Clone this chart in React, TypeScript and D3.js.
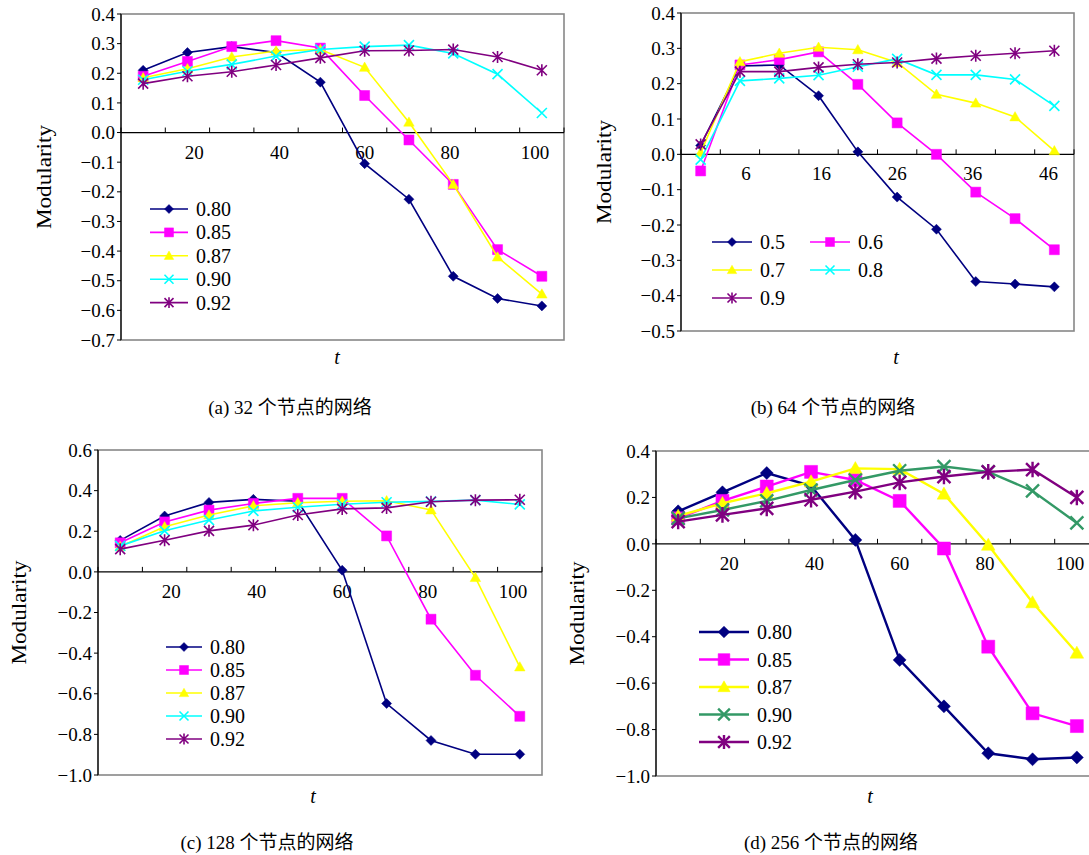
import React from "react";
import * as d3 from "d3";

// x values (t) for each panel
const tStep10 = [10, 20, 30, 40, 50, 60, 70, 80, 90, 100];
const tStep5 = [1, 6, 11, 16, 21, 26, 31, 36, 41, 46];
const xLabels10 = [20, 40, 60, 80, 100];
const xLabels5 = [6, 16, 26, 36, 46];

const legendFive = ["0.80", "0.85", "0.87", "0.90", "0.92"];
const legendB = ["0.5", "0.6", "0.7", "0.8", "0.9"];

// (a) 32 nodes
const a80 = [0.21, 0.27, 0.29, 0.27, 0.17, -0.105, -0.225, -0.485, -0.56, -0.585];
const a85 = [0.19, 0.24, 0.29, 0.31, 0.285, 0.125, -0.025, -0.175, -0.395, -0.485];
const a87 = [0.185, 0.215, 0.255, 0.275, 0.28, 0.22, 0.035, -0.175, -0.42, -0.545];
const a90 = [0.178, 0.207, 0.23, 0.258, 0.28, 0.29, 0.295, 0.267, 0.197, 0.066];
const a92 = [0.165, 0.19, 0.205, 0.228, 0.252, 0.276, 0.277, 0.28, 0.255, 0.21];

// (b) 64 nodes
const b5 = [0.025, 0.25, 0.253, 0.166, 0.007, -0.121, -0.212, -0.36, -0.367, -0.375];
const b6 = [-0.047, 0.253, 0.268, 0.29, 0.198, 0.089, 0.0, -0.107, -0.182, -0.27];
const b7 = [0.005, 0.262, 0.286, 0.303, 0.296, 0.26, 0.17, 0.145, 0.106, 0.01];
const b8 = [-0.015, 0.208, 0.215, 0.224, 0.248, 0.27, 0.225, 0.225, 0.212, 0.137];
const b9 = [0.028, 0.234, 0.234, 0.246, 0.255, 0.26, 0.271, 0.279, 0.286, 0.293];

// (c) 128 nodes
const c80 = [0.155, 0.275, 0.342, 0.357, 0.348, 0.008, -0.648, -0.83, -0.898, -0.898];
const c85 = [0.143, 0.246, 0.304, 0.337, 0.362, 0.362, 0.177, -0.233, -0.509, -0.711];
const c87 = [0.125, 0.222, 0.28, 0.325, 0.34, 0.348, 0.35, 0.305, -0.028, -0.468];
const c90 = [0.128, 0.202, 0.255, 0.3, 0.318, 0.333, 0.343, 0.347, 0.353, 0.332];
const c92 = [0.112, 0.156, 0.202, 0.23, 0.28, 0.31, 0.315, 0.345, 0.353, 0.355];

// (d) 256 nodes
const d80 = [0.14, 0.222, 0.305, 0.25, 0.017, -0.5, -0.7, -0.902, -0.928, -0.92];
const d85 = [0.11, 0.185, 0.247, 0.31, 0.275, 0.185, -0.02, -0.443, -0.73, -0.785];
const d87 = [0.12, 0.175, 0.218, 0.268, 0.325, 0.322, 0.215, -0.005, -0.253, -0.47];
const d90 = [0.11, 0.146, 0.185, 0.232, 0.275, 0.315, 0.333, 0.31, 0.228, 0.09];
const d92 = [0.096, 0.125, 0.153, 0.19, 0.225, 0.265, 0.29, 0.31, 0.32, 0.2];

const NAVY = "#000080", MAG = "#ff00ff", YEL = "#ffff00", CYAN = "#00ffff", PURP = "#800080", GREEN = "#339966";
const FONT = "Liberation Serif, DejaVu Serif, serif";
const CJK = "Liberation Serif, Noto Sans CJK SC, serif";

type Shape = "diamond" | "square" | "triangle" | "x" | "star";

function markerPath(shape: Shape, s: number) {
  switch (shape) {
    case "diamond": return `M0,${-s}L${s},0L0,${s}L${-s},0Z`;
    case "square": return `M${-s},${-s}H${s}V${s}H${-s}Z`;
    case "triangle": return `M0,${-s * 1.05}L${s * 1.05},${s * 0.8}L${-s * 1.05},${s * 0.8}Z`;
    case "x": return `M${-s},${-s}L${s},${s}M${-s},${s}L${s},${-s}`;
    case "star": return `M${-s},${-s}L${s},${s}M${-s},${s}L${s},${-s}M0,${-s * 1.2}V${s * 1.2}`;
  }
}

function Marker({ shape, color, s, x, y, sw }: { shape: Shape; color: string; s: number; x: number; y: number; sw: number }) {
  const filled = shape !== "x" && shape !== "star";
  return (
    <path
      d={markerPath(shape, s)}
      transform={`translate(${x},${y})`}
      fill={filled ? color : "none"}
      stroke={color}
      strokeWidth={filled ? 0.5 : sw}
    />
  );
}

interface Series { values: number[]; color: string; shape: Shape; label: string }

interface PanelProps {
  left: number; right: number; top: number; bottom: number;
  xs: number[]; xStep: number; xLabels: number[];
  yMin: number; yMax: number; yStep: number;
  series: Series[];
  legendX: number; legendY: number; legendRow: number; legendCols: number; legendColGap: number; legendLine: number;
  ylabelX: number; tX: number; tY: number; caption: string; capX: number; capY: number;
  ms: number; lw: number;
}

function Panel(p: PanelProps) {
  const x = d3.scaleLinear()
    .domain([p.xs[0] - p.xStep / 2, p.xs[p.xs.length - 1] + p.xStep / 2])
    .range([p.left, p.right]);
  const y = d3.scaleLinear().domain([p.yMin, p.yMax]).range([p.bottom, p.top]);
  const yTicks = d3.range(Math.round((p.yMax - p.yMin) / p.yStep) + 1).map(i => p.yMin + i * p.yStep);
  const bounds = d3.range(p.xs.length + 1).map(i => p.xs[0] - p.xStep / 2 + i * p.xStep);
  const fmt = d3.format(".1f");
  const line = d3.line<number>().x((_, i) => x(p.xs[i])).y(v => y(v));
  const y0 = y(0);
  // tick labels sit on a slightly tighter spacing than the points
  const xm = x(p.xLabels[Math.floor(p.xLabels.length / 2)]);
  const labelX = (v: number) => xm + (x(v) - xm) * 0.962;

  return (
    <g>
      {/* plot frame */}
      <rect x={p.left} y={p.top} width={p.right - p.left} height={p.bottom - p.top} fill="none" stroke="#888" strokeWidth={1.6} />
      {/* y axis */}
      <line x1={p.left} x2={p.left} y1={p.top} y2={p.bottom} stroke="#000" strokeWidth={1.2} />
      {yTicks.map((v, i) => (
        <g key={i}>
          <line x1={p.left - 4} x2={p.left} y1={y(v)} y2={y(v)} stroke="#000" strokeWidth={1} />
          <text x={p.left - 6} y={y(v)} dy="0.35em" textAnchor="end" fontSize={19} fontFamily={FONT}>{fmt(v)}</text>
        </g>
      ))}
      {/* x axis at zero */}
      <line x1={p.left} x2={p.right} y1={y0} y2={y0} stroke="#000" strokeWidth={1.2} />
      {bounds.map((b, i) => (
        <line key={i} x1={x(b)} x2={x(b)} y1={y0} y2={y0 - 5} stroke="#000" strokeWidth={1} />
      ))}
      {p.xLabels.map((v, i) => (
        <text key={i} x={labelX(v)} y={y0 + 26} textAnchor="middle" fontSize={19} fontFamily={FONT}>{v}</text>
      ))}
      {/* series */}
      {p.series.map((s, si) => (
        <g key={si}>
          <path d={line(s.values) || ""} fill="none" stroke={s.color} strokeWidth={p.lw} />
          {s.values.map((v, i) => (
            <Marker key={i} shape={s.shape} color={s.color} s={p.ms} x={x(p.xs[i])} y={y(v)} sw={p.lw} />
          ))}
        </g>
      ))}
      {/* legend */}
      {p.series.map((s, i) => {
        const col = i % p.legendCols;
        const row = Math.floor(i / p.legendCols);
        const lx = p.legendX + col * p.legendColGap;
        const ly = p.legendY + row * p.legendRow;
        return (
          <g key={i}>
            <line x1={lx} x2={lx + p.legendLine} y1={ly} y2={ly} stroke={s.color} strokeWidth={p.lw} />
            <Marker shape={s.shape} color={s.color} s={p.ms * 0.9} x={lx + p.legendLine / 2} y={ly} sw={p.lw} />
            <text x={lx + p.legendLine + 8} y={ly} dy="0.35em" fontSize={20} fontFamily={FONT}>{s.label}</text>
          </g>
        );
      })}
      {/* axis titles */}
      <text transform={`translate(${p.ylabelX},${(p.top + p.bottom) / 2}) rotate(-90)`} textAnchor="middle"
        fontSize={20} fontFamily={FONT} textLength={104} lengthAdjust="spacingAndGlyphs">Modularity</text>
      <text x={p.tX} y={p.tY} textAnchor="middle" fontSize={20} fontStyle="italic" fontFamily={FONT}>t</text>
      <text x={p.capX} y={p.capY} textAnchor="middle" fontSize={19} fontFamily={CJK}>{p.caption}</text>
    </g>
  );
}

const mk = (vals: number[][], colors: string[], labels: string[]): Series[] => {
  const shapes: Shape[] = ["diamond", "square", "triangle", "x", "star"];
  return vals.map((v, i) => ({ values: v, color: colors[i], shape: shapes[i], label: labels[i] }));
};

export default function App() {
  const seriesA = mk([a80, a85, a87, a90, a92], [NAVY, MAG, YEL, CYAN, PURP], legendFive);
  const seriesB = mk([b5, b6, b7, b8, b9], [NAVY, MAG, YEL, CYAN, PURP], legendB);
  const seriesC = mk([c80, c85, c87, c90, c92], [NAVY, MAG, YEL, CYAN, PURP], legendFive);
  const seriesD = mk([d80, d85, d87, d90, d92], [NAVY, MAG, YEL, GREEN, PURP], legendFive);

  return (
    <div style={{ position: "absolute", left: 0, top: 0 }}>
      <svg width={1089} height={855} style={{ display: "block", background: "#fff" }}>
        <Panel left={121} right={564} top={14} bottom={340} xs={tStep10} xStep={10} xLabels={xLabels10}
          yMin={-0.7} yMax={0.4} yStep={0.1} series={seriesA}
          legendX={150} legendY={209} legendRow={23.4} legendCols={1} legendColGap={0} legendLine={38}
          ylabelX={51} tX={337} tY={364} caption="(a) 32 个节点的网络" capX={290} capY={414} ms={5} lw={1.6} />
        <Panel left={681} right={1074} top={13} bottom={331} xs={tStep5} xStep={5} xLabels={xLabels5}
          yMin={-0.5} yMax={0.4} yStep={0.1} series={seriesB}
          legendX={712} legendY={242} legendRow={28} legendCols={2} legendColGap={98} legendLine={40}
          ylabelX={611} tX={896} tY={364} caption="(b) 64 个节点的网络" capX={833} capY={414} ms={5} lw={1.6} />
        <Panel left={98} right={542} top={450} bottom={775} xs={tStep10} xStep={10} xLabels={xLabels10}
          yMin={-1.0} yMax={0.6} yStep={0.2} series={seriesC}
          legendX={166} legendY={647} legendRow={23} legendCols={1} legendColGap={0} legendLine={36}
          ylabelX={26} tX={313} tY={803} caption="(c) 128 个节点的网络" capX={267} capY={849} ms={5} lw={1.6} />
        <Panel left={656} right={1099} top={451} bottom={776} xs={tStep10} xStep={10} xLabels={xLabels10}
          yMin={-1.0} yMax={0.4} yStep={0.2} series={seriesD}
          legendX={699} legendY={632} legendRow={27.5} legendCols={1} legendColGap={0} legendLine={50}
          ylabelX={584} tX={870} tY={803} caption="(d) 256 个节点的网络" capX={831} capY={849} ms={6.5} lw={2.4} />
      </svg>
    </div>
  );
}
